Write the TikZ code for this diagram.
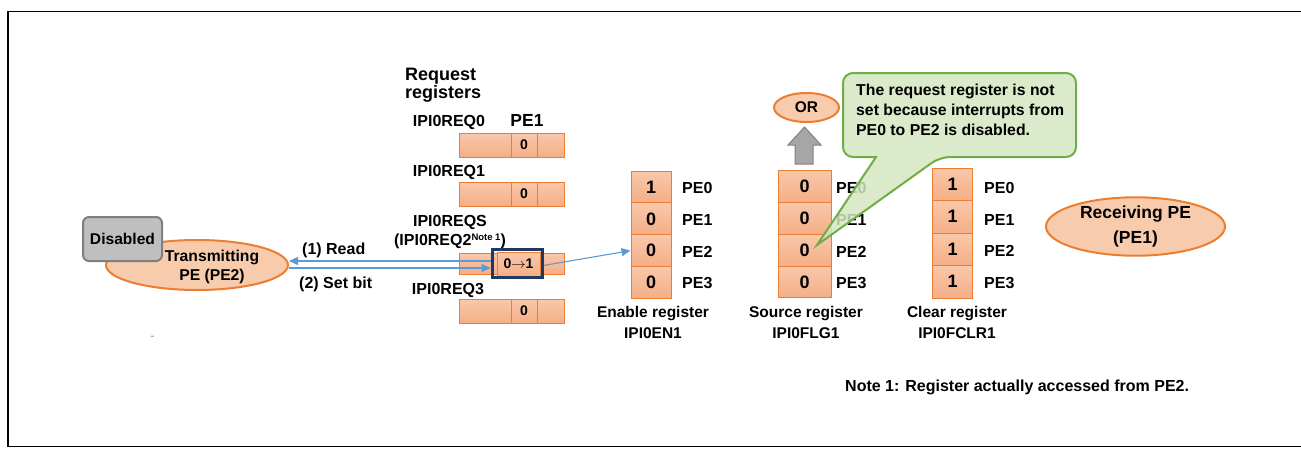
\documentclass[tikz,border=0pt]{standalone}
\usepackage{fontspec}
\setmainfont{Liberation Sans}
\usetikzlibrary{arrows.meta,positioning,calc,shapes.geometric}
\definecolor{orline}{HTML}{ED7D31}
\definecolor{orpale}{HTML}{F8CBAD}
\definecolor{ortop}{HTML}{F9C8AB}
\definecolor{orbot}{HTML}{F4AE86}
\definecolor{linkblue}{HTML}{5B9BD5}
\definecolor{hinavy}{HTML}{1F3864}
\definecolor{notefill}{HTML}{D3E6C1}
\definecolor{noteline}{HTML}{70AD47}
\definecolor{offfill}{HTML}{BFBFBF}
\definecolor{offline}{HTML}{7F7F7F}
\definecolor{blockfill}{HTML}{A6A6A6}
\newcommand{\fsz}[2]{\fontsize{#1}{#2}\selectfont\bfseries}

\begin{document}
\begin{tikzpicture}[x=1pt, y=-1pt,
  cell/.style={draw=orline, line width=1pt, top color=ortop, bottom color=orbot, inner sep=0pt, minimum height=24pt, font=\fsz{14}{14}},
  bitcell/.style={draw=orline, line width=1pt, top color=ortop, bottom color=orbot, inner sep=0pt, minimum width=40pt, minimum height=31.8pt, font=\fsz{18}{18}},
  pe/.style={ellipse, draw=orline, line width=2pt, fill=orpale, inner sep=0pt, align=center},
  lbl/.style={inner sep=0pt, font=\fsz{16}{18}},
  link/.style={draw=linkblue, line width=1.1pt, -{Triangle[length=9pt, width=8pt]}}
]
  \useasboundingbox (0,0) rectangle (1301,448);
  % Frame
  \draw[line width=1.3pt] (1301,11.5) -- (8,11.5) -- (8,446.5) -- (1301,446.5);

  % Transmitting PE (left)
  \node[pe, minimum width=182pt, minimum height=50pt] (txpe) at (197,265) {};
  \node[lbl, align=center, font=\fsz{15.7}{19}] (txlabel) at (212,267) {Transmitting\\PE (PE2)};
  \node[draw=offline, fill=offfill, line width=2pt, rounded corners=6pt, minimum width=79pt, minimum height=44pt, font=\fsz{15.6}{16}] (disabled) at (122.5,239) {Disabled};
  \node[inner sep=0pt, text=gray!70, font=\fontsize{14}{14}\selectfont] (dash) at (152.5,338) {-};

  % Request registers
  \node[lbl, align=left, anchor=west, font=\fsz{18}{18}] (reqtitle) at (405,85.5) {Request\\registers};
  \node[lbl, font=\fsz{17.5}{18}] (pe1top) at (527,120) {PE1};
  \foreach \nm/\yy in {q0/145, q1/194, q3/311}{
    \node[cell, minimum width=52pt] (\nm-l) at (485,\yy) {};
    \node[cell, minimum width=26pt] (\nm-m) at (524,\yy) {0};
    \node[cell, minimum width=27pt] (\nm-r) at (550.5,\yy) {};
  }
  \node[lbl] (q0-name) at (449,122) {IPI0REQ0};
  \node[lbl] (q1-name) at (449,172) {IPI0REQ1};
  \node[lbl, align=center, font=\fsz{16}{19}] (qs-name) at (450,232) {IPI0REQS\\(IPI0REQ2\raisebox{5pt}{\fontsize{9.5}{9.5}\selectfont Note 1})};
  \node[lbl] (q3-name) at (448,290) {IPI0REQ3};
  % set register with highlighted bit
  \node[cell, minimum width=38pt, minimum height=21pt] (qs-l) at (478,263.5) {};
  \node[cell, minimum width=24pt, minimum height=21pt] (qs-r) at (552,263.5) {};
  \node[cell, minimum width=43pt] (qs-m) at (518.5,264) {0$\rightarrow$1};
  \node[draw=hinavy, line width=3pt, minimum width=50.3pt, minimum height=28.3pt, inner sep=0pt] (qsbox) at (517.3,263.4) {};

  % Enable, source and clear registers
  \foreach \bit [count=\i from 0] in {1,0,0,0}{
    \node[bitcell] (en\i) at (651,{187+31.8*\i}) {\bit};
    \node[lbl, anchor=west] (en\i-pe) at (682,{188+31.8*\i}) {PE\i};
  }
  \foreach \i in {0,...,3}{
    \node[bitcell, minimum width=53pt] (fl\i) at (804.5,{186.5+31.8*\i}) {0};
    \node[lbl, anchor=west] (fl\i-pe) at (836,{188+31.8*\i}) {PE\i};
    \node[bitcell, minimum height=32.5pt] (cl\i) at (952.5,{184.25+32.5*\i}) {1};
    \node[lbl, anchor=west] (cl\i-pe) at (984,{188+31.5*\i}) {PE\i};
  }
  \node[lbl, align=center, font=\fsz{15.5}{21}] (en-cap) at (653,322.5) {Enable register\\IPI0EN1};
  \node[lbl, align=center, font=\fsz{15.5}{21}] (fl-cap) at (806,322.5) {Source register\\IPI0FLG1};
  \node[lbl, align=center, font=\fsz{15.5}{21}] (cl-cap) at (957,322.5) {Clear register\\IPI0FCLR1};

  % OR and block arrow
  \node[pe, minimum width=65pt, minimum height=29pt, font=\fsz{15.5}{16}] (or) at (806.5,107.5) {OR};
  \draw[draw=offline, fill=blockfill, line width=1pt] (795,164) -- (795,145) -- (788,145) -- (804.5,127) -- (821,145) -- (813,145) -- (813,164) -- cycle;

  % Receiving PE
  \node[pe, minimum width=179pt, minimum height=57pt, font=\fsz{17.5}{25}] (rxpe) at (1135.5,226.5) {Receiving PE\\(PE1)};

  % Callout
  \draw[draw=noteline, fill=notefill, fill opacity=0.85, line width=2pt] (843,110) [rounded corners=10pt] -- (843,73) -- (1076,73) -- (1076,157) -- (940,157) [sharp corners] -- (817,245) -- (876,157) [rounded corners=10pt] -- (843,157) -- cycle;
  \node[lbl, align=left, anchor=west, font=\fsz{15.8}{20}] (calltext) at (856,110) {The request register is not\\set because interrupts from\\PE0 to PE2 is disabled.};

  % Connectors
  \draw[link] ([yshift=2.4pt]qsbox.west) -- ([yshift=4pt]txpe.east);
  \draw[link] ([yshift=-3pt]txpe.east) -- ([yshift=-4.6pt]qsbox.west);
  \draw[link] ([yshift=-2pt]qsbox.east) -- (en2.west);
  \node[lbl, anchor=west] (readlbl) at (302,250) {(1) Read};
  \node[lbl, anchor=west] (setlbl) at (299,284) {(2) Set bit};

  % Note
  \node[lbl, anchor=west] (note) at (845,387) {Note 1: Register actually accessed from PE2.};
\end{tikzpicture}
\end{document}
